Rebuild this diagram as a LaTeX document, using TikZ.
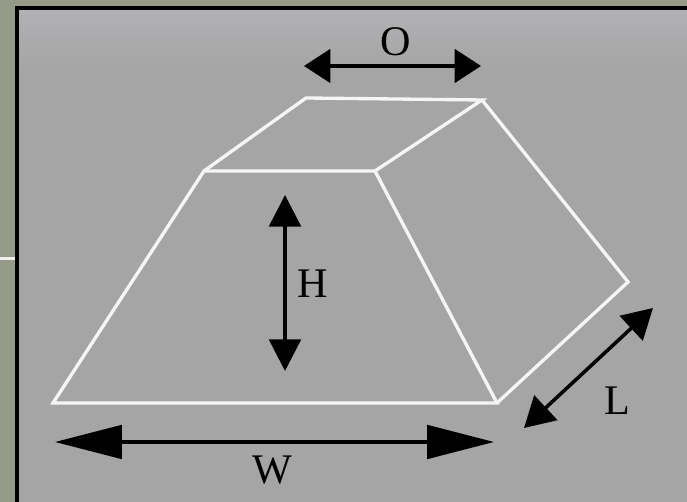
\documentclass[tikz,border=0pt]{standalone}
\usepackage{fontspec}
\setmainfont{Liberation Serif}
\usepackage{tkz-euclide}
\usetikzlibrary{arrows.meta}
\definecolor{slideback}{RGB}{150,154,136}
\definecolor{paneltop}{RGB}{178,178,182}
\definecolor{panelbot}{RGB}{165,165,165}
\tikzset{
    edge/.style={draw=white!96!black,line width=1.9pt,line join=miter},
    dimline/.style={black,line width=2pt},
    dimlabel/.style={font=\fontsize{24}{24}\selectfont,text=black,inner sep=0pt},
}

\begin{document}
\begin{tikzpicture}[x=0.02cm,y=0.02cm]
    \useasboundingbox (0,0) rectangle (687,502);
    \fill[slideback] (0,0) rectangle (687,502);
    \fill[panelbot] (17,0) rectangle (687,494);
    \shade[top color=paneltop,bottom color=panelbot] (17,434) rectangle (687,494);
    \draw[black,line width=1.9pt] (17,0) -- (17,494) -- (687,494);
    \draw[white!85!slideback,line width=1.5pt] (0,243.5) -- (15,243.5);

    \tkzDefPoint(53,99){BL}
    \tkzDefPoint(497,99){BR}
    \tkzDefPoint(375,331){FR}
    \tkzDefPoint(204,331){FL}
    \tkzDefPoint(306,404){RL}
    \tkzDefPoint(482,402){RR}
    \tkzDefPoint(628,220){RB}

    % the solid
    \draw[edge] (BL) -- (BR) -- (FR) -- (FL) -- cycle;
    \draw[edge] (FL) -- (RL) -- (RR) -- (FR);
    \draw[edge] (RR) -- (RB) -- (BR);

    % dimensions
    \tkzDefPoint(55,60){W1}
    \tkzDefPoint(494,60){W2}
    \tkzDefPoint(304,436){O1}
    \tkzDefPoint(481,436){O2}
    \tkzDefPoint(285,307){H1}
    \tkzDefPoint(285,131){H2}
    \tkzDefPoint(524,74){L1}
    \tkzDefPoint(653,194){L2}

    \draw[dimline,{Triangle[length=38pt,width=19pt]}-{Triangle[length=38pt,width=19pt]}] (W1) -- (W2);
    \draw[dimline,{Triangle[length=15pt,width=19pt]}-{Triangle[length=15pt,width=19pt]}] (O1) -- (O2);
    \draw[dimline,{Triangle[length=18pt,width=18pt]}-{Triangle[length=18pt,width=18pt]}] (H1) -- (H2);
    \draw[dimline,{Triangle[length=17pt,width=19pt]}-{Triangle[length=17pt,width=19pt]}] (L1) -- (L2);

    \node[dimlabel] (labelO) at (396,460) {O};
    \node[dimlabel] (labelH) at (313,218) {H};
    \node[dimlabel] (labelL) at (617,101) {L};
    \node[dimlabel] (labelW) at (272,32) {W};
\end{tikzpicture}
\end{document}
